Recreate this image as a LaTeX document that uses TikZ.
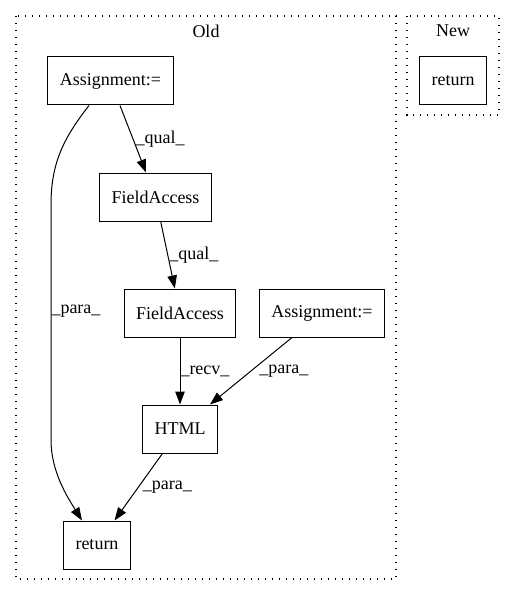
\documentclass[tikz,border=0pt]{standalone}
\usepackage{fontspec}
\setmainfont{Liberation Serif}
\usetikzlibrary{arrows.meta}
\begin{document}
\begin{tikzpicture}[x=1pt,y=-1pt,
  box/.style={draw=black, line width=1pt, rectangle, inner xsep=12pt, minimum height=48pt, font=\fontsize{18}{22}\selectfont},
  clus/.style={draw=black, line width=1.2pt, dash pattern=on 1.3pt off 5.7pt},
  edge/.style={draw=black, line width=1pt, -{Triangle[length=13pt,width=9.5pt]}},
  lbl/.style={anchor=west, inner sep=0pt, font=\fontsize{18}{22}\selectfont}]
\useasboundingbox (0,0) rectangle (516,596);
\draw [clus] (16,16) rectangle (396,579);
\draw [clus] (407,16) rectangle (499,115);
\node [lbl, anchor=center] (old) at (206,31) {Old};
\node [lbl, anchor=center] (new) at (453,31) {New};
\node [box] (asg1) at (110.5,81) {Assignment:=};
\node [box] (fa1) at (155.5,197) {FieldAccess};
\node [box] (fa2) at (180,313) {FieldAccess};
\node [box] (asg2) at (322,313) {Assignment:=};
\node [box] (html) at (180,429) {HTML};
\node [box] (ret) at (97,545) {return};
\node [box] (newret) at (453,81) {return};
\draw [edge] (asg1) -- node [lbl, xshift=2pt] {\_qual\_} (fa1);
\draw [edge] (fa1) -- node [lbl, xshift=1pt] {\_qual\_} (fa2);
\draw [edge] (fa2) -- node [lbl] {\_recv\_} (html);
\draw [edge] (asg2) -- node [lbl, xshift=8pt] {\_para\_} (html);
\draw [edge] (html) -- node [lbl, xshift=4pt] {\_para\_} (ret);
\draw [edge] ([xshift=-21.5pt]asg1.south) .. controls (62,140) and (51,165) .. (51,205)
  -- node [lbl, pos=.45] {\_para\_} (51,440) .. controls (51,472) and (68,498) .. ([xshift=-15pt]ret.north);
\end{tikzpicture}
\end{document}
